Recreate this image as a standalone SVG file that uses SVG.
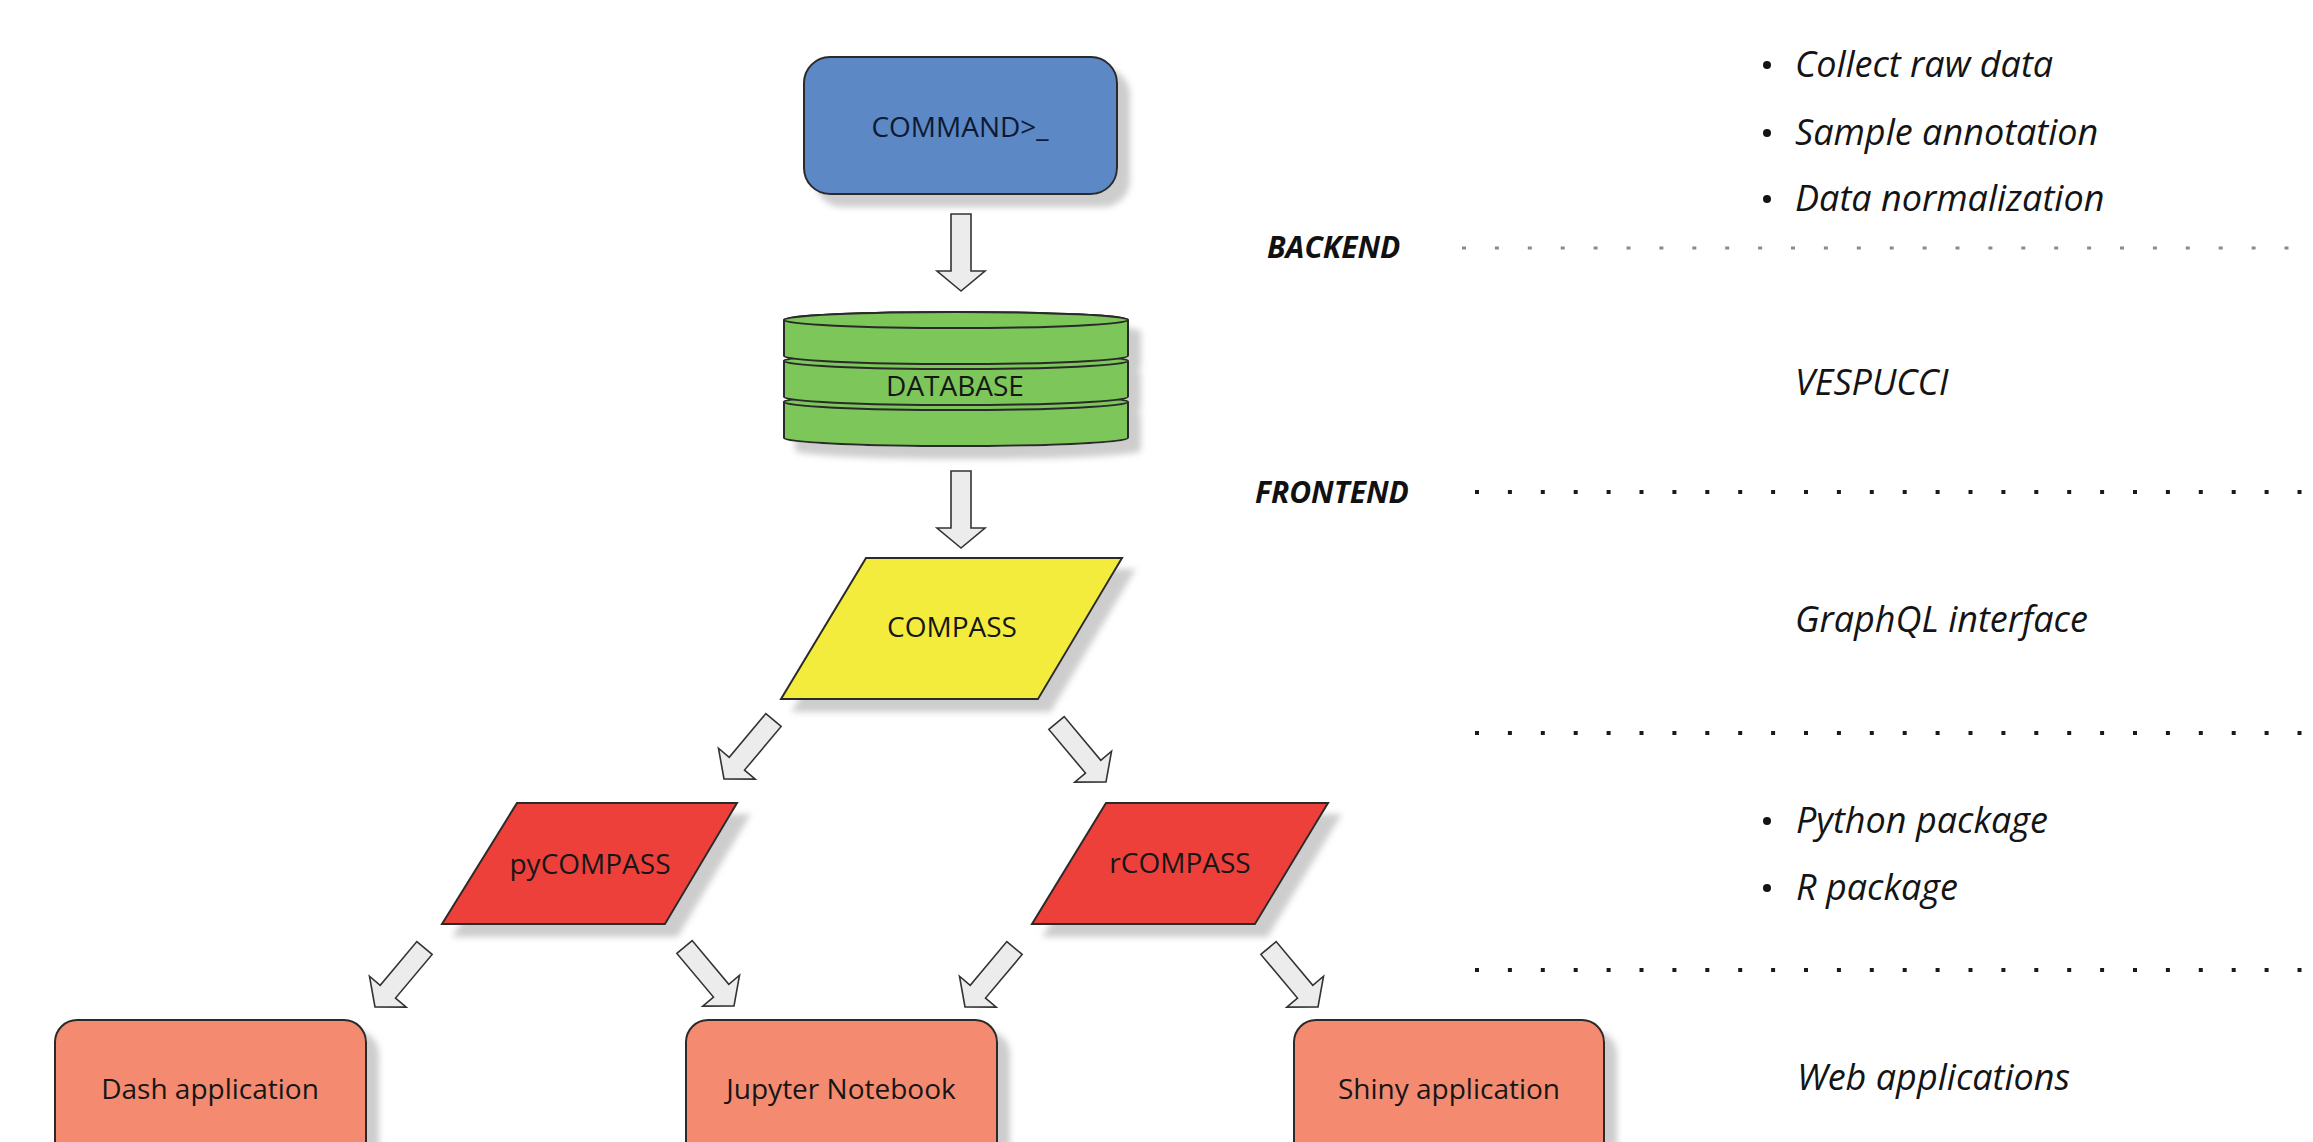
<svg xmlns="http://www.w3.org/2000/svg" xmlns:xlink="http://www.w3.org/1999/xlink" width="2313" height="1142" viewBox="0 0 2313 1142">
<defs>
<filter id="sh" x="-10%" y="-10%" width="130%" height="140%">
<feDropShadow dx="12" dy="12" stdDeviation="3" flood-color="#bdbdbd" flood-opacity="0.75"/>
</filter>
<path id="arr" d="M0,0 L-24,-20 L-10,-20 L-10,-77 L10,-77 L10,-20 L24,-20 Z"/>
</defs>
<style>
.node text{font-family:"Open Sans","Liberation Sans",sans-serif;font-size:28px;fill:#161616;text-anchor:middle}
.shape{stroke:#2a2a2a;stroke-width:2}
.arrow use{fill:#ececec;stroke:#333;stroke-width:1.6;stroke-linejoin:miter}
.side{font-family:"Open Sans","Liberation Sans",sans-serif;font-style:italic;font-size:36px;fill:#141414}
.lbl{font-family:"Open Sans","Liberation Sans",sans-serif;font-style:italic;font-weight:bold;font-size:30px;fill:#111}
.dots{stroke:#1a1a1a;stroke-width:4;stroke-dasharray:4 28.9;fill:none}
</style>
<rect width="2313" height="1142" fill="#ffffff"/>

<g id="command" class="node">
<rect class="shape" x="804" y="57" width="313" height="137" rx="26" fill="#5b88c6" stroke="#26354f" filter="url(#sh)"/>
<text x="960" y="137" style="fill:#0e1a33">COMMAND&gt;_</text>
</g>

<g id="database" class="node">
<g filter="url(#sh)">
<path class="shape" fill="#7bc65a" stroke="#1f3a14" d="M784,402 L784,438 A172,8 0 0 0 1128,438 L1128,402 A172,8 0 0 0 784,402 Z"/>
<ellipse class="shape" cx="956" cy="402" rx="172" ry="8" fill="#7bc65a" stroke="#1f3a14"/>
<path class="shape" fill="#7bc65a" stroke="#1f3a14" d="M784,361 L784,397 A172,8 0 0 0 1128,397 L1128,361 A172,8 0 0 0 784,361 Z"/>
<ellipse class="shape" cx="956" cy="361" rx="172" ry="8" fill="#7bc65a" stroke="#1f3a14"/>
<path class="shape" fill="#7bc65a" stroke="#1f3a14" d="M784,320 L784,356 A172,8 0 0 0 1128,356 L1128,320 A172,8 0 0 0 784,320 Z"/>
<ellipse class="shape" cx="956" cy="320" rx="172" ry="8" fill="#7bc65a" stroke="#1f3a14"/>
</g>
<text x="955" y="396">DATABASE</text>
</g>

<g id="compass" class="node">
<polygon class="shape" points="866,558 1122,558 1038,699 781,699" fill="#f4ec3d" stroke="#3b3a10" filter="url(#sh)"/>
<text x="952" y="637">COMPASS</text>
</g>

<g id="pycompass" class="node">
<polygon class="shape" points="517,803 737,803 665,924 442,924" fill="#ee3f3a" stroke="#4a1312" filter="url(#sh)"/>
<text x="590" y="874">pyCOMPASS</text>
</g>

<g id="rcompass" class="node">
<polygon class="shape" points="1106,803 1328,803 1255,924 1032,924" fill="#ee3f3a" stroke="#4a1312" filter="url(#sh)"/>
<text x="1180" y="873">rCOMPASS</text>
</g>

<g id="dash" class="node">
<rect class="shape" x="55" y="1020" width="311" height="160" rx="22" fill="#f48b71" stroke="#4a2a24" filter="url(#sh)"/>
<text x="210" y="1099">Dash application</text>
</g>

<g id="jupyter" class="node">
<rect class="shape" x="686" y="1020" width="311" height="160" rx="22" fill="#f48b71" stroke="#4a2a24" filter="url(#sh)"/>
<text x="841" y="1099">Jupyter Notebook</text>
</g>

<g id="shiny" class="node">
<rect class="shape" x="1294" y="1020" width="310" height="160" rx="22" fill="#f48b71" stroke="#4a2a24" filter="url(#sh)"/>
<text x="1449" y="1099">Shiny application</text>
</g>

<g id="connectors" class="arrow">
<use xlink:href="#arr" href="#arr" transform="translate(961,291)"/>
<use xlink:href="#arr" href="#arr" transform="translate(961,548)"/>
<use xlink:href="#arr" href="#arr" transform="translate(724,779) rotate(40)"/>
<use xlink:href="#arr" href="#arr" transform="translate(1106,782) rotate(-40)"/>
<use xlink:href="#arr" href="#arr" transform="translate(375,1007) rotate(40)"/>
<use xlink:href="#arr" href="#arr" transform="translate(734,1006) rotate(-40)"/>
<use xlink:href="#arr" href="#arr" transform="translate(965,1007) rotate(40)"/>
<use xlink:href="#arr" href="#arr" transform="translate(1318,1007) rotate(-40)"/>
</g>

<g id="legend">
<line class="dots" x1="1462" y1="248" x2="2313" y2="248" style="stroke:#8a8a8a;stroke-width:3"/>
<line class="dots" x1="1475" y1="492" x2="2313" y2="492"/>
<line class="dots" x1="1475" y1="733" x2="2313" y2="733"/>
<line class="dots" x1="1475" y1="970" x2="2313" y2="970"/>
<text class="lbl" x="1267" y="258">BACKEND</text>
<text class="lbl" x="1255" y="503">FRONTEND</text>
<g class="side">
<circle cx="1767" cy="65" r="4" fill="#141414"/>
<text x="1795" y="77">Collect raw data</text>
<circle cx="1767" cy="133" r="4" fill="#141414"/>
<text x="1795" y="145">Sample annotation</text>
<circle cx="1767" cy="199" r="4" fill="#141414"/>
<text x="1795" y="211">Data normalization</text>
<text x="1795" y="395">VESPUCCI</text>
<text x="1795" y="632">GraphQL interface</text>
<circle cx="1767" cy="821" r="4" fill="#141414"/>
<text x="1796" y="833">Python package</text>
<circle cx="1767" cy="888" r="4" fill="#141414"/>
<text x="1796" y="900">R package</text>
<text x="1797" y="1090">Web applications</text>
</g>
</g>
</svg>
